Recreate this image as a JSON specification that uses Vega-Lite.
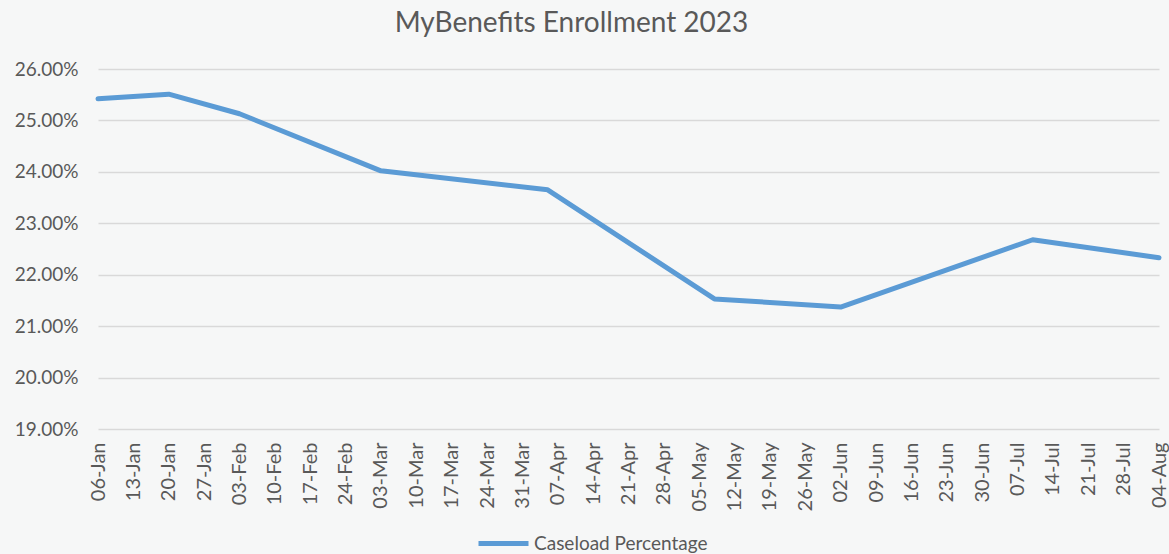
{
  "$schema": "https://vega.github.io/schema/vega-lite/v6.json",
  "width": 1061,
  "height": 360,
  "autosize": {"type": "none"},
  "padding": {"left": 98, "top": 69, "right": 10, "bottom": 125},
  "background": "#f6f7f7",
  "config": {
    "view": {"stroke": null},
    "font": "Lato",
    "axis": {"labelFont": "Lato", "labelColor": "#595959", "labelFontSize": 19}
  },
  "title": {
    "text": "MyBenefits Enrollment 2023",
    "font": "Lato",
    "fontSize": 28,
    "fontWeight": "normal",
    "color": "#595959",
    "anchor": "middle",
    "dx": -57,
    "offset": 22
  },
  "data": {
    "values": [
      {"date": "2023-01-06", "pct": 0.2542, "series": "Caseload Percentage"},
      {"date": "2023-01-20", "pct": 0.2551, "series": "Caseload Percentage"},
      {"date": "2023-02-03", "pct": 0.2513, "series": "Caseload Percentage"},
      {"date": "2023-03-03", "pct": 0.2402, "series": "Caseload Percentage"},
      {"date": "2023-04-05", "pct": 0.2365, "series": "Caseload Percentage"},
      {"date": "2023-05-08", "pct": 0.2153, "series": "Caseload Percentage"},
      {"date": "2023-06-02", "pct": 0.2137, "series": "Caseload Percentage"},
      {"date": "2023-07-10", "pct": 0.2268, "series": "Caseload Percentage"},
      {"date": "2023-08-04", "pct": 0.2233, "series": "Caseload Percentage"}
    ]
  },
  "mark": {"type": "line", "strokeWidth": 5, "strokeCap": "round", "strokeJoin": "round"},
  "encoding": {
    "x": {
      "field": "date",
      "type": "temporal",
      "scale": {"type": "utc", "domain": [{"year": 2023, "month": 1, "date": 6, "utc": true}, {"year": 2023, "month": 8, "date": 4, "utc": true}]},
      "axis": {
        "title": null,
        "format": "%d-%b",
        "labelAngle": 270,
        "labelPadding": 13,
        "labelFontSize": 20,
        "ticks": false,
        "domain": false,
        "grid": false,
        "labelOverlap": false,
        "labelFlush": false,
        "values": [
          {"year": 2023, "month": 1, "date": 6, "utc": true},
          {"year": 2023, "month": 1, "date": 13, "utc": true},
          {"year": 2023, "month": 1, "date": 20, "utc": true},
          {"year": 2023, "month": 1, "date": 27, "utc": true},
          {"year": 2023, "month": 2, "date": 3, "utc": true},
          {"year": 2023, "month": 2, "date": 10, "utc": true},
          {"year": 2023, "month": 2, "date": 17, "utc": true},
          {"year": 2023, "month": 2, "date": 24, "utc": true},
          {"year": 2023, "month": 3, "date": 3, "utc": true},
          {"year": 2023, "month": 3, "date": 10, "utc": true},
          {"year": 2023, "month": 3, "date": 17, "utc": true},
          {"year": 2023, "month": 3, "date": 24, "utc": true},
          {"year": 2023, "month": 3, "date": 31, "utc": true},
          {"year": 2023, "month": 4, "date": 7, "utc": true},
          {"year": 2023, "month": 4, "date": 14, "utc": true},
          {"year": 2023, "month": 4, "date": 21, "utc": true},
          {"year": 2023, "month": 4, "date": 28, "utc": true},
          {"year": 2023, "month": 5, "date": 5, "utc": true},
          {"year": 2023, "month": 5, "date": 12, "utc": true},
          {"year": 2023, "month": 5, "date": 19, "utc": true},
          {"year": 2023, "month": 5, "date": 26, "utc": true},
          {"year": 2023, "month": 6, "date": 2, "utc": true},
          {"year": 2023, "month": 6, "date": 9, "utc": true},
          {"year": 2023, "month": 6, "date": 16, "utc": true},
          {"year": 2023, "month": 6, "date": 23, "utc": true},
          {"year": 2023, "month": 6, "date": 30, "utc": true},
          {"year": 2023, "month": 7, "date": 7, "utc": true},
          {"year": 2023, "month": 7, "date": 14, "utc": true},
          {"year": 2023, "month": 7, "date": 21, "utc": true},
          {"year": 2023, "month": 7, "date": 28, "utc": true},
          {"year": 2023, "month": 8, "date": 4, "utc": true}
        ]
      }
    },
    "y": {
      "field": "pct",
      "type": "quantitative",
      "scale": {"domain": [0.19, 0.26], "nice": false, "zero": false},
      "axis": {
        "title": null,
        "format": ".2%",
        "values": [0.19, 0.2, 0.21, 0.22, 0.23, 0.24, 0.25, 0.26],
        "ticks": false,
        "domain": false,
        "labelPadding": 20,
        "gridColor": "#d9d9d9",
        "gridWidth": 1.5
      }
    },
    "color": {
      "field": "series",
      "type": "nominal",
      "scale": {"range": ["#5b9bd5"]},
      "legend": {
        "title": null,
        "orient": "none",
        "legendX": 378,
        "legendY": 447,
        "symbolType": "stroke",
        "symbolSize": 2500,
        "symbolStrokeWidth": 5,
        "labelFont": "Lato",
        "labelFontSize": 19,
        "labelColor": "#595959",
        "labelOffset": 3,
        "labelLimit": 0,
        "padding": 0
      }
    }
  }
}
